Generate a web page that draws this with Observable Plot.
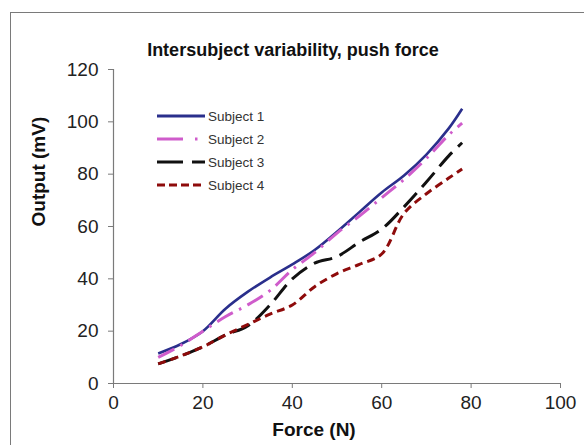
<!DOCTYPE html>
<html><head><meta charset="utf-8">
<script src="https://cdn.jsdelivr.net/npm/d3@7"></script>
<script src="https://cdn.jsdelivr.net/npm/@observablehq/plot@0.6"></script>
<style>
body{margin:0;background:#fff;font-family:"Liberation Sans",Arial,sans-serif;}
#wrap{position:relative;width:584px;height:445px;overflow:hidden;background:#fff}
#frame{position:absolute;left:10px;top:12px;width:640px;height:500px;border:1.5px solid #7a7a7a;box-sizing:border-box}
#chart{position:absolute;left:0;top:0}
#legend{position:absolute;left:157px;top:104.5px;font-size:13.5px;color:#333}
.row{display:flex;align-items:center;height:23px;white-space:nowrap}
.row svg{margin-right:3px}
</style>
</head><body>
<div id="wrap"><div id="frame"></div><div id="chart"></div><div id="legend"></div></div>
<script>
const title = "Intersubject variability, push force";
const xLabel = "Force (N)";
const yLabel = "Output (mV)";
const seriesNames = ["Subject 1", "Subject 2", "Subject 3", "Subject 4"];
const force    = [10, 15, 20, 25, 30, 35, 40, 45, 50, 55, 60, 65, 70, 75, 78];
const subject1 = [11.5, 15, 20, 28.5, 35, 40.5, 45.5, 51, 58, 65.5, 73, 79.5, 87.5, 97.5, 105];
const subject2 = [10, 14.5, 20, 25.5, 30, 35.5, 43.5, 50, 57.5, 64, 71, 78, 86, 95, 99.5];
const subject3 = [7.5, 10.5, 14, 18.5, 22, 30, 40, 46, 48.5, 54, 59, 67.5, 77, 87, 92];
const subject4 = [7.5, 10.5, 14, 18.5, 22.5, 26.5, 30, 37, 42, 45.5, 49.5, 65, 72.5, 78.5, 82];
const xTicks = [0, 20, 40, 60, 80, 100];
const yTicks = [0, 20, 40, 60, 80, 100, 120];

const seriesValues = [subject1, subject2, subject3, subject4];
const styles = [
  {stroke: "#2a2f8c", dash: null, width: 2.6, legendDash: null},
  {stroke: "#cf5ccb", dash: "18,7,2.5,7", width: 3, legendDash: "26,12,2.5,30"},
  {stroke: "#111111", dash: "19,8", width: 3, legendDash: "26,9"},
  {stroke: "#8e0b0b", dash: "8,5", width: 3, legendDash: "8,4"}
];

const marks = [
  Plot.ruleY([0], {stroke: "#7a7a7a", strokeWidth: 1.2}),
  Plot.ruleX([0], {stroke: "#7a7a7a", strokeWidth: 1.2}),
  Plot.axisX({ticks: xTicks, tickSize: 5, tickPadding: 7, fontSize: 19, label: null, stroke: "#7a7a7a", fill: "#222"}),
  Plot.axisY({ticks: yTicks, tickSize: 5, tickPadding: 10, fontSize: 19, label: null, stroke: "#7a7a7a", fill: "#222"}),
  Plot.text([title], {frameAnchor: "top", dy: -26, dx: -44, fontSize: 18, fontWeight: "bold", fill: "#111", text: d => d}),
  Plot.text([xLabel], {frameAnchor: "bottom", dy: 52, dx: -23, fontSize: 19, fontWeight: "bold", fill: "#111", text: d => d}),
  Plot.text([yLabel], {frameAnchor: "left", dx: -75, rotate: -90, fontSize: 19, fontWeight: "bold", fill: "#111", text: d => d})
];
seriesValues.forEach((vals, i) => {
  const data = force.map((f, j) => ({force: f, value: vals[j]}));
  const s = styles[i];
  marks.push(Plot.line(data, {x: "force", y: "value", curve: "catmull-rom", stroke: s.stroke, strokeWidth: s.width, strokeDasharray: s.dash ?? undefined, strokeLinecap: "butt"}));
});

const chart = Plot.plot({
  width: 584, height: 445,
  marginLeft: 113, marginRight: 24, marginTop: 69, marginBottom: 62,
  style: {fontFamily: "'Liberation Sans', Arial, sans-serif", background: "transparent", overflow: "visible"},
  x: {domain: [0, 100]},
  y: {domain: [0, 120]},
  marks
});
document.getElementById("chart").appendChild(chart);

const legend = document.getElementById("legend");
seriesNames.forEach((name, i) => {
  const s = styles[i];
  const row = document.createElement("div");
  row.className = "row";
  row.innerHTML = `<svg width="48" height="8"><line x1="0" y1="4" x2="48" y2="4" stroke="${s.stroke}" stroke-width="3" ${s.legendDash ? `stroke-dasharray="${s.legendDash}"` : ""}/></svg><span>${name}</span>`;
  legend.appendChild(row);
});
</script>
</body></html>
